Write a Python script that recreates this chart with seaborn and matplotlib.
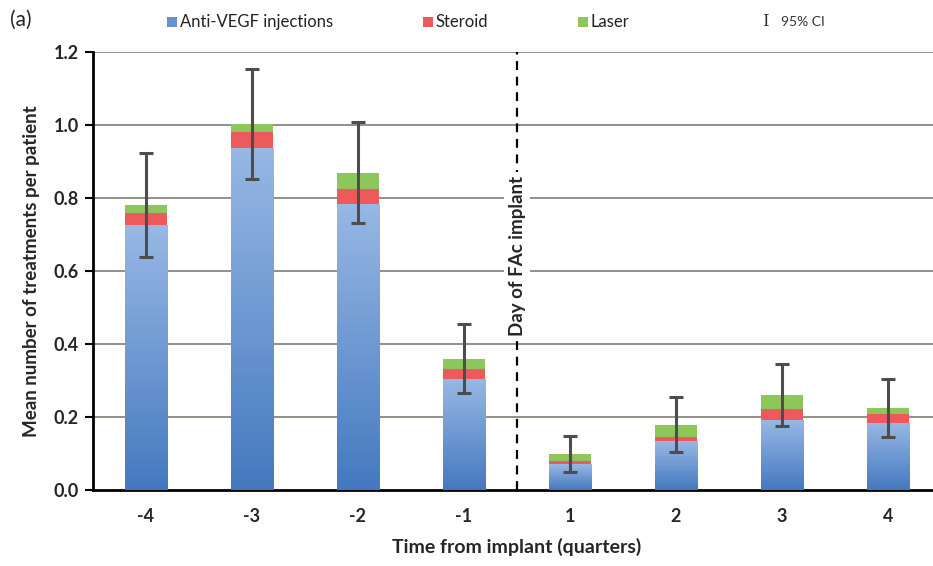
import numpy as np
import pandas as pd
import matplotlib.pyplot as plt
import seaborn as sns
from matplotlib.patches import Rectangle

# valores
quarters = ['-4', '-3', '-2', '-1', '1', '2', '3', '4']
anti_vegf = [0.725, 0.937, 0.784, 0.304, 0.071, 0.134, 0.192, 0.184]
steroid = [0.035, 0.044, 0.040, 0.027, 0.008, 0.012, 0.030, 0.024]
laser = [0.020, 0.022, 0.044, 0.028, 0.020, 0.032, 0.038, 0.017]
ci_low = [0.638, 0.852, 0.732, 0.265, 0.050, 0.104, 0.175, 0.146]
ci_high = [0.923, 1.153, 1.008, 0.455, 0.148, 0.255, 0.345, 0.304]

df = pd.DataFrame({'quarter': quarters, 'anti_vegf': anti_vegf,
                   'steroid': steroid, 'laser': laser})
df['blue_red'] = df['anti_vegf'] + df['steroid']
df['total'] = df['blue_red'] + df['laser']
mean_total = df['total'].values

sns.set_theme(style='white')
plt.rcParams['font.family'] = ['Lato', 'DejaVu Sans']

fig = plt.figure(figsize=(9.33, 5.66), dpi=100)
ax = fig.add_axes([93 / 933, 1 - 490 / 566, 848 / 933, 438 / 566])

c_blue = '#6592cf'
c_red = '#ee5a5c'
c_green = '#8dc65a'

# barras apiladas dibujadas por superposicion
sns.barplot(data=df, x='quarter', y='total', order=quarters, color=c_green,
            width=0.4, saturation=1, linewidth=0, ax=ax, zorder=3)
sns.barplot(data=df, x='quarter', y='blue_red', order=quarters, color=c_red,
            width=0.4, saturation=1, linewidth=0, ax=ax, zorder=3)
sns.barplot(data=df, x='quarter', y='anti_vegf', order=quarters, color=c_blue,
            width=0.4, saturation=1, linewidth=0, ax=ax, zorder=3)

# degradado vertical en las barras azules (estilo Excel)
blue_bars = ax.patches[-len(quarters):]
grad = np.linspace(0, 1, 256).reshape(-1, 1)
cmap = sns.blend_palette(['#4479bf', '#98b8e5'], as_cmap=True)
for p in blue_bars:
    x0, y0 = p.get_x(), p.get_y()
    im = ax.imshow(grad, cmap=cmap, origin='lower', aspect='auto',
                   extent=[x0, x0 + p.get_width(), y0, y0 + p.get_height()],
                   zorder=3.5)
    im.set_clip_path(p)

# intervalos de confianza
pos = np.arange(len(quarters))
yerr = [mean_total - np.array(ci_low), np.array(ci_high) - mean_total]
ax.errorbar(pos, mean_total, yerr=yerr, fmt='none', ecolor='#4d4d4d',
            elinewidth=2.2, capsize=5, capthick=2.2, zorder=5)

ax.set_ylim(0, 1.2)
ax.set_xlim(-0.5, 7.5)
ax.set_yticks(np.arange(0, 1.21, 0.2))
ax.set_yticklabels([f'{v:.1f}' for v in np.arange(0, 1.21, 0.2)],
                   fontweight='bold', fontsize=13)
ax.set_xticks(pos)
ax.set_xticklabels(quarters, fontweight='bold', fontsize=13)
ax.set_xticks(np.arange(-0.5, 7.6, 1), minor=True)
ax.tick_params(axis='x', which='major', length=0, pad=13)
ax.tick_params(axis='x', which='minor', length=6, width=1.5, direction='out',
               color='black')
ax.tick_params(axis='y', length=6, width=1.5, direction='out', color='black',
               left=True, pad=4)

for v in np.arange(0.2, 1.21, 0.2):
    ax.axhline(v, color='#8c8680', lw=1.3, zorder=1)

for side in ['top', 'right']:
    ax.spines[side].set_visible(False)
for side in ['left', 'bottom']:
    ax.spines[side].set_color('black')
    ax.spines[side].set_linewidth(2)

ax.axvline(3.5, color='black', ls=(0, (4, 3)), lw=1.6, zorder=4)
ax.text(3.5, 0.64, 'Day of FAc implant', rotation=90, ha='center', va='center',
        fontweight='bold', fontsize=13.5, zorder=6,
        bbox=dict(facecolor='white', edgecolor='none', pad=3))

ax.set_xlabel('Time from implant (quarters)', fontweight='bold', fontsize=14,
              labelpad=9)
ax.set_ylabel('Mean number of treatments per patient', fontweight='bold',
              fontsize=13.5, labelpad=10)

# leyenda superior colocada a mano
W, H = 933, 566
ly = 1 - 22 / H
for sx, col, lab in [(167, c_blue, 'Anti-VEGF injections'),
                     (423, c_red, 'Steroid'),
                     (578, c_green, 'Laser')]:
    fig.add_artist(Rectangle((sx / W, ly - 5 / H), 9.5 / W, 9.5 / H,
                             transform=fig.transFigure, color=col, lw=0))
    fig.text((sx + 13) / W, ly, lab, fontsize=12, va='center', ha='left',
             color='#222222')
fig.text(765 / W, ly, 'I', fontsize=12, va='center', ha='center',
         family='DejaVu Serif', color='#333333')
fig.text(781 / W, ly, '95% CI', fontsize=10, va='center', ha='left',
         color='#333333')

fig.text(0.011, 0.965, '(a)', fontsize=15, va='center', ha='left')

plt.savefig('out.png', dpi=100)
